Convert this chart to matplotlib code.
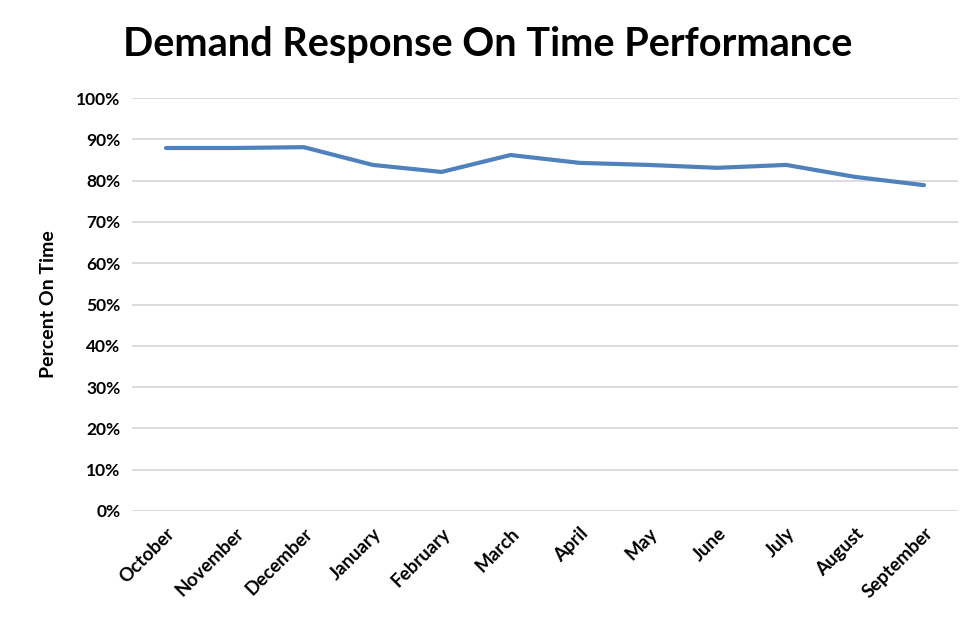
import matplotlib
matplotlib.use('Agg')
from matplotlib import pyplot as plt
from matplotlib.ticker import PercentFormatter

months = ['October', 'November', 'December', 'January', 'February', 'March',
          'April', 'May', 'June', 'July', 'August', 'September']
on_time = [87.9, 87.9, 88.1, 83.8, 82.1, 86.2, 84.3, 83.8, 83.1, 83.8, 80.9, 78.9]

plt.rcParams['font.family'] = ['Lato', 'DejaVu Sans']

fig = plt.figure(figsize=(9.75, 6.22), dpi=100)
ax = fig.add_axes([0.1349, 0.1785, 0.983 - 0.1349, 0.8424 - 0.1785])

x = range(len(months))
ax.plot(x, [v / 100 for v in on_time], color='#4F81BD', linewidth=3.0,
        solid_capstyle='round', zorder=3)

ax.set_xlim(-0.5, len(months) - 0.5)
ax.set_ylim(0, 1)
ax.set_yticks([i / 10 for i in range(11)])
ax.yaxis.set_major_formatter(PercentFormatter(1.0, decimals=0))
ax.set_xticks(list(x))
ax.set_xticklabels(months, rotation=45, ha='right', rotation_mode='anchor',
                   fontsize=13.5, fontweight='bold')
for lab in ax.get_yticklabels():
    lab.set_fontweight('bold')
    lab.set_fontsize(12.5)

ax.grid(axis='y', color='#D9D9D9', linewidth=1.3)
ax.set_axisbelow(True)
ax.tick_params(length=0, pad=8)
ax.tick_params(axis='x', pad=10)
for s in ax.spines.values():
    s.set_visible(False)

ax.set_ylabel('Percent On Time', fontsize=14, fontweight='bold', labelpad=14)
fig.text(0.5, 0.928, 'Demand Response On Time Performance', ha='center',
         va='center', fontsize=28.5, fontweight='bold')

fig.savefig('out.png', dpi=100)
